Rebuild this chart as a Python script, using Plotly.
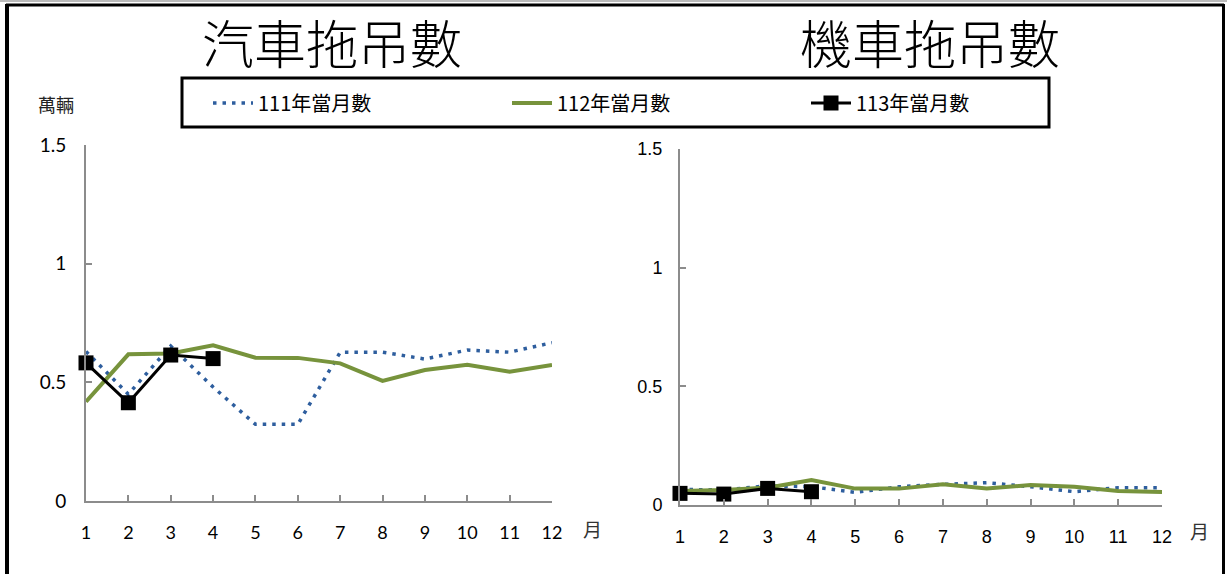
import plotly.graph_objects as go

months = list(range(1, 13))
month_labels = [str(m) for m in months]

series_names = ["111年當月數", "112年當月數", "113年當月數"]

# 汽車拖吊數 (萬輛)
car_111 = [0.63, 0.45, 0.653, 0.48, 0.323, 0.323, 0.627, 0.627, 0.598, 0.636, 0.627, 0.667]
car_112 = [0.418, 0.618, 0.622, 0.656, 0.604, 0.603, 0.58, 0.506, 0.552, 0.574, 0.545, 0.573]
car_113 = [0.582, 0.414, 0.615, 0.60]

# 機車拖吊數 (萬輛)
moto_111 = [0.066, 0.063, 0.081, 0.077, 0.053, 0.077, 0.087, 0.094, 0.077, 0.056, 0.073, 0.073]
moto_112 = [0.059, 0.063, 0.073, 0.105, 0.069, 0.069, 0.087, 0.07, 0.084, 0.077, 0.059, 0.055]
moto_113 = [0.049, 0.046, 0.07, 0.056]

y_ticks = [0, 0.5, 1, 1.5]
y_tick_text = ["0", "0.5", "1", "1.5"]

titles = ["汽車拖吊數", "機車拖吊數"]
unit_label = "萬輛"
month_unit = "月"

W, H = 1227, 574
BLUE = "#2E5E9E"
GREEN = "#77933C"
AXIS = "#8C8C8C"

def px(x):
    return x / W

def py(y):
    return 1 - y / H

fig = go.Figure()

def add_series(xa, ya, d111, d112, d113, show):
    fig.add_trace(go.Scatter(x=months, y=d111, mode="lines", name=series_names[0],
                             line=dict(color=BLUE, width=3.5, dash="3.5px,6px"),
                             xaxis=xa, yaxis=ya, showlegend=show, cliponaxis=False))
    fig.add_trace(go.Scatter(x=months, y=d112, mode="lines", name=series_names[1],
                             line=dict(color=GREEN, width=4),
                             xaxis=xa, yaxis=ya, showlegend=show, cliponaxis=False))
    fig.add_trace(go.Scatter(x=months[:len(d113)], y=d113, mode="lines+markers", name=series_names[2],
                             line=dict(color="black", width=3),
                             marker=dict(symbol="square", size=15, color="black"),
                             xaxis=xa, yaxis=ya, showlegend=show, cliponaxis=False))

add_series("x", "y", car_111, car_112, car_113, True)
add_series("x2", "y2", moto_111, moto_112, moto_113, False)

common_x = dict(range=[1, 12], tickvals=months, ticktext=month_labels, showgrid=False,
                zeroline=False, showline=True, linecolor=AXIS, linewidth=2,
                ticks="inside", ticklen=6, tickcolor=AXIS, tickwidth=1.5,
                ticklabelstandoff=14)
common_y = dict(range=[0, 1.5], tickvals=y_ticks, ticktext=y_tick_text, showgrid=False,
                zeroline=False, showline=True, linecolor=AXIS, linewidth=2,
                ticks="inside", ticklen=6, tickcolor=AXIS, tickwidth=1.5)

fig.update_layout(
    width=W, height=H,
    margin=dict(l=0, r=0, t=0, b=0, autoexpand=False),
    paper_bgcolor="white", plot_bgcolor="white",
    xaxis=dict(domain=[px(86), px(552)], anchor="y",
               tickfont=dict(family="Lato, Liberation Sans", size=18, color="black"), **common_x),
    yaxis=dict(domain=[py(501), py(145)], anchor="x",
               tickfont=dict(family="Lato, Liberation Sans", size=19, color="black"),
               ticklabelstandoff=14, **common_y),
    xaxis2=dict(domain=[px(680), px(1162)], anchor="y2",
                tickfont=dict(family="Liberation Sans, Arial", size=18, color="black"), **common_x),
    yaxis2=dict(domain=[py(505), py(149)], anchor="x2",
                tickfont=dict(family="Liberation Sans, Arial", size=18, color="black"),
                ticklabelstandoff=12, **common_y),
    showlegend=True,
    legend=dict(orientation="h", x=px(208), y=py(103), xanchor="left", yanchor="middle",
                entrywidth=244, entrywidthmode="pixels",
                font=dict(family="Noto Sans CJK TC", size=20, color="black"),
                bgcolor="rgba(0,0,0,0)", borderwidth=0, itemwidth=40),
)

ann_common = dict(xref="paper", yref="paper", showarrow=False, xanchor="center", yanchor="middle")
# Titles
fig.add_annotation(x=px(332), y=py(42), text=titles[0],
                   font=dict(family="Noto Sans CJK TC", size=52, color="black", weight=300), **ann_common)
fig.add_annotation(x=px(930), y=py(42), text=titles[1],
                   font=dict(family="Noto Sans CJK TC", size=52, color="black", weight=300), **ann_common)
# Unit label
fig.add_annotation(x=px(56), y=py(104), text=unit_label,
                   font=dict(family="Noto Sans CJK TC", size=18, color="#222222"), **ann_common)
# Month unit labels
fig.add_annotation(x=px(592), y=py(528), text=month_unit,
                   font=dict(family="Noto Sans CJK TC", size=19, color="#333333"), **ann_common)
fig.add_annotation(x=px(1199), y=py(530), text=month_unit,
                   font=dict(family="Noto Sans CJK TC", size=19, color="#333333"), **ann_common)

# Legend box
fig.add_shape(type="rect", xref="paper", yref="paper", x0=px(182), x1=px(1049), y0=py(127), y1=py(78),
              line=dict(color="black", width=3), fillcolor="rgba(0,0,0,0)", layer="below")
# Outer frame
fig.add_shape(type="line", xref="paper", yref="paper", x0=0, x1=1, y0=py(1), y1=py(1),
              line=dict(color="#BBBBBB", width=2))
fig.add_shape(type="line", xref="paper", yref="paper", x0=px(6), x1=px(1224), y0=py(5), y1=py(5),
              line=dict(color="black", width=3))
fig.add_shape(type="line", xref="paper", yref="paper", x0=px(7), x1=px(7), y0=0, y1=py(4),
              line=dict(color="black", width=4))
fig.add_shape(type="line", xref="paper", yref="paper", x0=px(1223.5), x1=px(1223.5), y0=0, y1=py(4),
              line=dict(color="black", width=3))

fig.write_html("out.html", config={"displayModeBar": False},
               post_script="document.body.style.margin='0';")
